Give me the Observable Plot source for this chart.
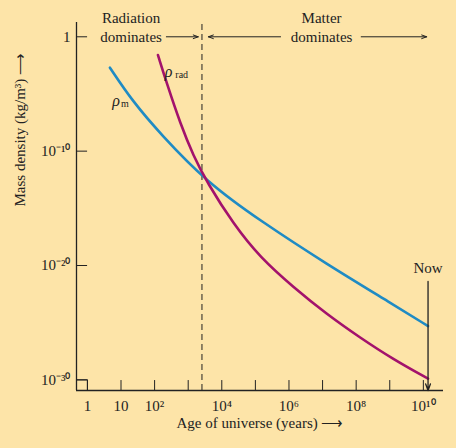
<!DOCTYPE html>
<html><head><meta charset="utf-8">
<script src="https://cdn.jsdelivr.net/npm/d3@7"></script>
<script src="https://cdn.jsdelivr.net/npm/@observablehq/plot@0.6"></script>
<style>body{margin:0;background:#fde4a8}</style>
</head><body><div id="chart"></div>
<script>
// log10 of age (years) and log10 of density (kg/m^3)
const matterLogT = [0.67, 1.335, 2.175, 3.56, 5.14, 7.12, 9.1, 10.14]
const matterLogRho = [-2.7, -5.61, -8.5, -12.73, -16.08, -19.87, -23.4, -25.3]
const radLogT = [2.1, 2.37, 2.77, 3.16, 3.56, 4.35, 5.14, 6.13, 7.12, 8.11, 9.1, 10.14]
const radLogRho = [-1.6, -4.14, -7.63, -10.45, -12.73, -16.4, -19.3, -21.9, -24.25, -26.3, -28.2, -29.9]
const xTicks = [1, 1e1, 1e2, 1e3, 1e4, 1e5, 1e6, 1e7, 1e8, 1e9, 1e10]
const xLabels = {1: "1", 10: "10", 100: "10²", 1e4: "10⁴", 1e6: "10⁶", 1e8: "10⁸", 1e10: "10¹⁰"}
const yTicks = [1, 1e-10, 1e-20, 1e-30]
const yLabels = ["1", "10⁻¹⁰", "10⁻²⁰", "10⁻³⁰"]
const tEquality = 10 ** 3.41
const tNow = 10 ** 10.14

const matter = matterLogT.map((t, i) => ({t: 10 ** t, rho: 10 ** matterLogRho[i]}))
const rad = radLogT.map((t, i) => ({t: 10 ** t, rho: 10 ** radLogRho[i]}))

const xmin = 10 ** -0.325, xmax = 10 ** 10.6
const ymin = 10 ** -30.93, ymax = 10 ** 1.25
const ink = "#222"

const chart = Plot.plot({
  width: 456, height: 448,
  marginLeft: 76, marginRight: 13, marginTop: 22, marginBottom: 58,
  style: {fontFamily: "'Liberation Serif', serif", fontSize: 15, background: "#fde4a8", color: ink},
  x: {type: "log", domain: [xmin, xmax], axis: null},
  y: {type: "log", domain: [ymin, ymax], axis: null},
  marks: [
    Plot.ruleX([xmin], {stroke: ink, strokeWidth: 1.3}),
    Plot.ruleY([ymin], {stroke: ink, strokeWidth: 1.3}),
    // inward ticks
    Plot.ruleX(xTicks, {y1: ymin, y2: ymin * 10 ** 0.87, stroke: ink}),
    Plot.ruleY(yTicks, {x1: xmin, x2: xmin * 10 ** 0.33, stroke: ink}),
    Plot.ruleX([1], {y1: ymin, y2: 1e-30, stroke: ink}),
    Plot.ruleY([1e-30], {x1: xmin, x2: 1, stroke: ink}),
    Plot.text(Object.keys(xLabels).map(Number), {x: d => d, y: ymin, text: d => xLabels[d], dy: 16, fontSize: 15}),
    Plot.text(yTicks, {x: xmin, y: d => d, text: (d, i) => yLabels[i], textAnchor: "end", dx: -6, fontSize: 15}),
    Plot.ruleX([tEquality], {y1: ymin, y2: ymax, stroke: ink, strokeDasharray: "6,4"}),
    Plot.line(matter, {x: "t", y: "rho", stroke: "#1f8bc4", strokeWidth: 2.6, curve: "basis"}),
    Plot.line(rad, {x: "t", y: "rho", stroke: "#a3126c", strokeWidth: 2.6, curve: "basis"}),
    Plot.text(["ρ"], {x: 10 ** 0.85, y: 10 ** -5.6, fontStyle: "italic", fontSize: 16}),
    Plot.text(["m"], {x: 10 ** 0.85, y: 10 ** -5.6, dx: 9, dy: 3, fontSize: 10}),
    Plot.text(["ρ"], {x: 10 ** 2.42, y: 10 ** -3.1, fontStyle: "italic", fontSize: 16}),
    Plot.text(["rad"], {x: 10 ** 2.42, y: 10 ** -3.1, dx: 13, dy: 3, fontSize: 10}),
    Plot.text(["Radiation"], {x: 10 ** 1.3, y: 10 ** 1.6}),
    Plot.text(["dominates"], {x: 10 ** 1.3, y: 1}),
    Plot.text(["Matter"], {x: 10 ** 6.97, y: 10 ** 1.6}),
    Plot.text(["dominates"], {x: 10 ** 6.97, y: 1}),
    Plot.arrow([{a: 10 ** 2.35, b: 10 ** 3.3}, {a: 10 ** 5.75, b: 10 ** 3.6}, {a: 10 ** 8.15, b: 10 ** 10.1}],
      {x1: "a", x2: "b", y1: 1, y2: 1, stroke: ink, strokeWidth: 1, headLength: 8, headAngle: 40}),
    Plot.text(["Now"], {x: tNow, y: 10 ** -20.2}),
    Plot.arrow([0], {x1: tNow, x2: tNow, y1: 10 ** -21.4, y2: ymin, stroke: ink, strokeWidth: 1.3, headLength: 8, headAngle: 40}),
    Plot.text(["Age of universe (years) ⟶"], {frameAnchor: "bottom", dy: 37}),
    Plot.text(["Mass density (kg/m³) ⟶"], {frameAnchor: "left", dx: -56, rotate: -90})
  ]
})
d3.select('#chart').append(() => chart)
</script></body></html>
